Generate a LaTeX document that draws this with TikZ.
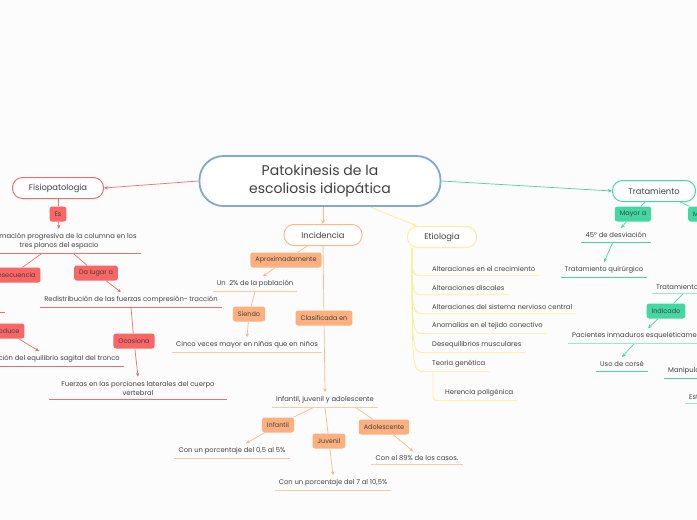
\documentclass[tikz,border=0pt]{standalone}
\usepackage{fontspec}
\setmainfont{Poppins}
\usepackage{tikz}
\usetikzlibrary{arrows.meta,positioning,calc}
\definecolor{bgc}{HTML}{FCFCFC}
\definecolor{txt}{HTML}{404040}
\definecolor{bluec}{HTML}{7DA9D3}
\definecolor{redb}{HTML}{F26D6D}
\definecolor{redf}{HTML}{FA6565}
\definecolor{orb}{HTML}{FDB98C}
\definecolor{orf}{HTML}{FDB07F}
\definecolor{oru}{HTML}{FDCAA6}
\definecolor{yel}{HTML}{FFEE99}
\definecolor{grn}{HTML}{44D7A4}
\definecolor{grnu}{HTML}{9BE8CB}

\begin{document}
\begin{tikzpicture}[x=1pt,y=-1pt,>={Stealth[length=4pt,width=3.5pt]},
  topic/.style={draw,line width=1pt,fill=white,rounded corners=10pt,minimum height=21pt,text=txt,font=\fontsize{8.3}{9}\selectfont},
  tag/.style={rounded corners=2.5pt,minimum height=15pt,inner xsep=5pt,inner ysep=2pt,text=txt,font=\fontsize{6.5}{7}\selectfont},
  rtag/.style={tag,fill=redf},
  otag/.style={tag,fill=orf},
  gtag/.style={tag,fill=grn},
  leaf/.style={inner xsep=4pt,inner ysep=4pt,text=txt,align=center,font=\fontsize{6.8}{9}\selectfont},
  rl/.style={draw=redb,line width=0.7pt},
  ol/.style={draw=orb,line width=0.7pt},
  yl/.style={draw=yel,line width=0.8pt},
  gl/.style={draw=grn,line width=0.7pt},
  ou/.style={draw=oru,line width=0.8pt},
  gu/.style={draw=grnu,line width=0.9pt}]
\path[use as bounding box,fill=bgc] (0,0) rectangle (697,520);
\clip (0,0) rectangle (697,520);

% centro
\node[draw=bluec,line width=1.8pt,fill=white,rounded corners=24pt,minimum width=241pt,minimum height=50pt,align=center,text=txt,font=\fontsize{14}{18}\selectfont] (main) at (320,181) {Patokinesis de la\\escoliosis idiopática};

% Fisiopatologia
\node[topic,draw=redb,minimum width=91pt] (fis) at (58,188) {Fisiopatologia};
\draw[rl,->] (main.west) -- (fis.east);
\node[rtag] (es) at (58,214) {Es};
\node[leaf] (def) at (59,241) {Deformación progresiva de la columna en los\\tres planos del espacio};
\draw[rl] (fis) -- (es);
\draw[rl,->] (es) -- (def.north);
\node[rtag] (cons) at (12,275) {Consecuencia};
\draw[rl] ([xshift=-17pt]def.south) -- (cons);
\coordinate (cx) at (5,312);
\draw[rl] (cx) -- ++(-30,0);
\node[rtag] (prod) at (6,331) {Produce};
\node[leaf,anchor=east] (alt) at (124,359) {Alteración del equilibrio sagital del tronco};
\draw[rl,->] (prod) -- ([xshift=-10pt]alt.north);
\node[rtag] (da) at (96,273) {Da lugar a};
\draw[rl] ([xshift=14pt]def.south) -- (da);
\node[leaf] (redis) at (131,300) {Redistribución de las fuerzas compresión- tracción};
\draw[rl,->] (da) -- ([xshift=-10pt]redis.north);
\node[rtag] (oca) at (134,341) {Ocasiona};
\node[leaf,inner xsep=12pt] (fuer) at (138,388) {Fuerzas en las porciones laterales del cuerpo\\vertebral};
\draw[rl] (redis.south) -- (oca);
\draw[rl,->] (oca) -- (fuer.north);

% Incidencia
\node[topic,draw=orb,minimum width=78pt] (inc) at (323,235) {Incidencia};
\draw[ol,->] (inc.north |- main.south) -- (inc.north);
\node[otag] (aprox) at (286,260) {Aproximadamente};
\node[leaf] (pob) at (255,284) {Un\ \ 2\% de la población};
\draw[ol] ([xshift=-16pt]inc.south) -- (aprox);
\draw[ol,->] (aprox) -- ([xshift=8pt]pob.north);
\node[otag] (sie) at (249,314) {Siendo};
\node[leaf] (cinco) at (247,345) {Cinco veces mayor en niñas que en niños};
\draw[ol] (pob.south) -- (sie);
\draw[ol,->] (sie) -- (cinco.north);
\node[otag] (clas) at (324,318) {Clasificada en};
\node[leaf] (infj) at (325,400) {Infantil, juvenil y adolescente};
\draw[ol] (inc.south) -- (clas);
\draw[ol,->] (clas) -- (infj.north);
\node[otag] (inf) at (278,425) {Infantil};
\node[leaf] (c05) at (232,451) {Con un porcentaje del 0,5 al 5\%};
\draw[ol] ([xshift=-12pt]infj.south) -- (inf);
\draw[ol,->] (inf) -- ([xshift=14pt]c05.north);
\node[otag] (juv) at (329,441) {Juvenil};
\node[leaf] (c7) at (333,483) {Con un porcentaje del 7 al 10,5\%};
\draw[ol] (infj.south) -- (juv);
\draw[ol,->] (juv) -- (c7.north);
\node[otag] (ado) at (384,427) {Adolescente};
\node[leaf] (c89) at (417,458) {Con el 89\% de los casos.};
\draw[ol] ([xshift=31pt]infj.south) -- (ado);
\draw[ol,->] (ado) -- ([xshift=-4pt]c89.north);

% Etiologia
\node[topic,draw=yel,minimum width=69pt] (eti) at (442,237) {Etiologia};
\draw[yl,->] ([xshift=50pt]main.south) -- ([xshift=10pt]eti.north west);
\coordinate (eroot) at ([xshift=5pt]eti.south west);
\node[leaf,anchor=west] (e1) at (428,269) {Alteraciones en el crecimiento};
\node[leaf,anchor=west] (e2) at (428,288) {Alteraciones discales};
\node[leaf,anchor=west] (e3) at (428,307) {Alteraciones del sistema nervioso central};
\node[leaf,anchor=west] (e4) at (428,326) {Anomalias en el tejido conectivo};
\node[leaf,anchor=west] (e5) at (428,345) {Desequilibrios musculares};
\node[leaf,anchor=west] (e6) at (428,364) {Teoria genética};
\foreach \n in {e1,e2,e3,e4,e5,e6}
  \draw[yl] (eroot) .. controls (eroot |- \n.south) .. ([xshift=-3pt]\n.south west) -- (\n.south east);
\node[leaf,anchor=west] (her) at (441,393) {Herencia poligénica};
\draw[yl,rounded corners=4pt] ([xshift=5pt]e6.south west) |- (her.south west) -- (her.south east);

% Tratamiento
\node[topic,draw=grn,minimum width=83pt] (tra) at (654,191) {Tratamiento};
\draw[gl,->] (main.east) -- (tra.west);
\node[gtag] (may) at (633,214) {Mayor a};
\node[gtag,anchor=west] (men) at (688,214) {Menor a};
\draw[gl] ([xshift=-9pt]tra.south) -- (may);
\draw[gl] ([xshift=26pt]tra.south) -- (men);
\node[leaf] (desv) at (616,235) {45° de desviación};
\draw[gl,->] (may) -- ([xshift=5pt]desv.north);
\node[leaf] (quir) at (604,270) {Tratamiento quirúrgico};
\draw[gl,->] ([xshift=-3pt]desv.south) -- (quir.north);
\node[leaf,anchor=west] (cons2) at (652,287) {Tratamiento conservador};
\node[gtag] (ind) at (666,311) {Indicado};
\draw[gl] ([xshift=31pt]cons2.south west) -- (ind);
\node[leaf,anchor=west] (pac) at (568,336) {Pacientes inmaduros esqueleticamente};
\draw[gl,->] (ind) -- ([xshift=80pt]pac.north west);
\node[leaf] (cor) at (622,364) {Uso de corsé};
\draw[gl,->] ([xshift=66pt]pac.south west) -- (cor.north);
\node[leaf,anchor=west] (man) at (664,371) {Manipulación};
\node[leaf,anchor=west] (est) at (685,397) {Estiramientos};

% subrayados
\foreach \n/\c in {def/rl,redis/rl,alt/rl,fuer/rl,pob/ou,cinco/ou,infj/ou,c05/ou,c7/ou,c89/ou,desv/gl,quir/gl,cons2/gu,pac/gu,cor/gl,man/gl,est/gu}
  \draw[\c] (\n.south west) -- (\n.south east);
\end{tikzpicture}
\end{document}
